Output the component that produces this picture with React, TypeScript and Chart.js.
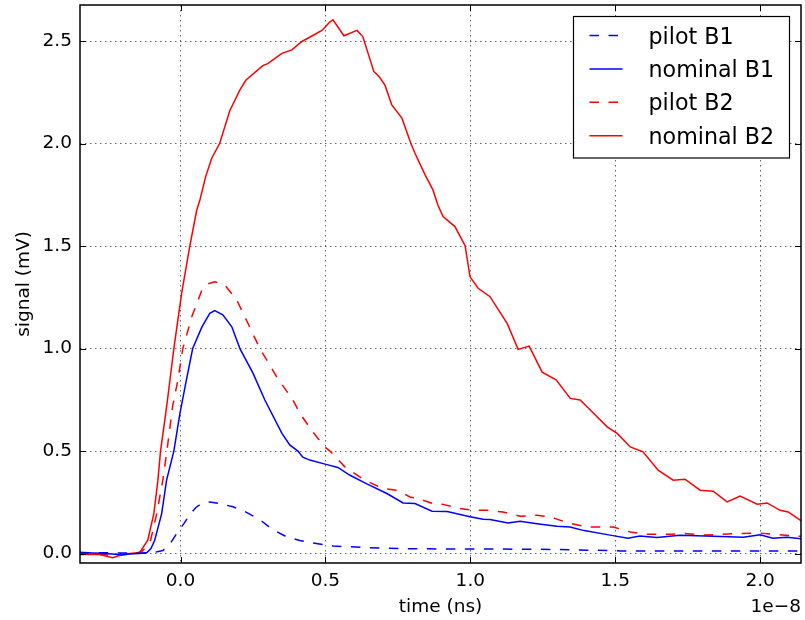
import React, { useEffect, useRef } from 'react';
import { Chart, registerables } from 'chart.js';

Chart.register(...registerables);

// ---- data (time in units of 1e-8 s, signal in mV) ----
const xTicks = [0.0, 0.5, 1.0, 1.5, 2.0];
const yTicks = [0.0, 0.5, 1.0, 1.5, 2.0, 2.5];
const xOffsetLabel = '1e\u22128';
const xLabel = 'time (ns)';
const yLabel = 'signal (mV)';
const seriesLabels = ['pilot B1', 'nominal B1', 'pilot B2', 'nominal B2'];

const tPilotB1 = [-0.348, -0.21, -0.123, -0.089, -0.061, -0.037, -0.013, 0.011, 0.032, 0.053, 0.074, 0.101, 0.136, 0.181, 0.222, 0.274, 0.315, 0.367, 0.412, 0.446, 0.526, 0.643, 0.757, 0.93, 1.103, 1.31, 1.517, 1.724, 1.931, 2.142];
const pilotB1 = [0.005, 0.003, 0.002, 0.006, 0.015, 0.045, 0.098, 0.145, 0.19, 0.225, 0.245, 0.252, 0.244, 0.228, 0.205, 0.165, 0.12, 0.081, 0.064, 0.054, 0.037, 0.029, 0.024, 0.022, 0.022, 0.02, 0.013, 0.012, 0.013, 0.013];

const tNominalB1 = [-0.348, -0.279, -0.21, -0.141, -0.116, -0.102, -0.089, -0.065, -0.048, -0.023, -0.002, 0.018, 0.042, 0.074, 0.101, 0.118, 0.146, 0.177, 0.205, 0.25, 0.291, 0.35, 0.377, 0.405, 0.422, 0.446, 0.502, 0.543, 0.585, 0.643, 0.712, 0.768, 0.809, 0.868, 0.92, 0.999, 1.044, 1.068, 1.13, 1.172, 1.23, 1.299, 1.344, 1.393, 1.482, 1.544, 1.585, 1.644, 1.723, 1.838, 1.942, 2.0, 2.044, 2.093, 2.142];
const nominalB1 = [0.005, 0.002, -0.004, 0.0, 0.005, 0.025, 0.065, 0.195, 0.358, 0.5, 0.684, 0.83, 1.0, 1.106, 1.172, 1.185, 1.165, 1.106, 1.0, 0.88, 0.749, 0.586, 0.53, 0.5, 0.47, 0.456, 0.435, 0.42, 0.382, 0.34, 0.293, 0.247, 0.244, 0.207, 0.205, 0.18, 0.167, 0.166, 0.149, 0.158, 0.146, 0.133, 0.13, 0.112, 0.09, 0.075, 0.086, 0.078, 0.089, 0.084, 0.08, 0.092, 0.075, 0.08, 0.072];

const tPilotB2 = [-0.348, -0.279, -0.21, -0.158, -0.134, -0.12, -0.103, -0.082, -0.061, -0.047, -0.027, -0.009, 0.008, 0.039, 0.074, 0.094, 0.118, 0.153, 0.194, 0.222, 0.274, 0.333, 0.388, 0.412, 0.453, 0.498, 0.516, 0.567, 0.636, 0.699, 0.747, 0.792, 0.819, 0.871, 0.906, 0.964, 1.009, 1.058, 1.113, 1.172, 1.23, 1.275, 1.337, 1.403, 1.493, 1.552, 1.61, 1.689, 1.734, 1.817, 1.921, 2.0, 2.059, 2.142];
const pilotB2 = [0.0, -0.005, -0.01, 0.0, 0.01, 0.03, 0.065, 0.195, 0.358, 0.5, 0.72, 0.847, 1.0, 1.155, 1.286, 1.315, 1.326, 1.31, 1.237, 1.155, 1.0, 0.86, 0.749, 0.684, 0.6, 0.52, 0.5, 0.423, 0.358, 0.317, 0.309, 0.276, 0.268, 0.244, 0.24, 0.22, 0.211, 0.211, 0.203, 0.182, 0.187, 0.179, 0.15, 0.13, 0.13, 0.105, 0.094, 0.094, 0.098, 0.09, 0.098, 0.1, 0.092, 0.084];

const tNominalB2 = [-0.348, -0.279, -0.234, -0.21, -0.175, -0.141, -0.113, -0.092, -0.078, -0.069, -0.051, -0.044, -0.023, 0.004, 0.032, 0.056, 0.067, 0.087, 0.108, 0.135, 0.17, 0.205, 0.226, 0.284, 0.301, 0.35, 0.384, 0.419, 0.488, 0.515, 0.526, 0.564, 0.609, 0.629, 0.667, 0.685, 0.705, 0.729, 0.764, 0.795, 0.809, 0.844, 0.871, 0.888, 0.906, 0.947, 0.982, 0.999, 1.027, 1.068, 1.127, 1.165, 1.203, 1.248, 1.296, 1.345, 1.379, 1.414, 1.472, 1.507, 1.552, 1.596, 1.648, 1.7, 1.741, 1.793, 1.838, 1.886, 1.931, 1.99, 2.024, 2.069, 2.097, 2.142];
const nominalB2 = [-0.005, -0.005, -0.02, -0.008, 0.0, 0.005, 0.065, 0.195, 0.358, 0.5, 0.684, 0.76, 1.0, 1.27, 1.5, 1.676, 1.725, 1.84, 1.93, 2.0, 2.16, 2.262, 2.31, 2.38, 2.39, 2.44, 2.457, 2.498, 2.552, 2.593, 2.604, 2.526, 2.552, 2.522, 2.352, 2.327, 2.287, 2.189, 2.124, 2.0, 1.953, 1.847, 1.774, 1.7, 1.644, 1.595, 1.502, 1.35, 1.294, 1.253, 1.123, 0.996, 1.012, 0.885, 0.848, 0.757, 0.749, 0.7, 0.618, 0.586, 0.52, 0.496, 0.407, 0.358, 0.363, 0.309, 0.304, 0.252, 0.28, 0.241, 0.247, 0.211, 0.203, 0.16];

const X_MIN = -0.3468;
const X_MAX = 2.141;
const Y_MIN = -0.046;
const Y_MAX = 2.676;

const FONT = 'DejaVu Sans';
const TICK_SIZE = 18.5;
const LEGEND_SIZE = 22.2;
const DASH = [9.5, 9.5];

const pts = (t: number[], v: number[]) => t.map((x, i) => ({ x, y: v[i] }));

const framePlugin = {
  id: 'mplFrame',
  afterDatasetsDraw(chart: any) {
    const { ctx, chartArea: a, scales } = chart;
    ctx.save();
    ctx.setLineDash([]);
    ctx.strokeStyle = '#000';
    ctx.lineWidth = 1;
    const L = 6;
    xTicks.forEach((v) => {
      const px = Math.round(scales.x.getPixelForValue(v)) + 0.5;
      ctx.beginPath();
      ctx.moveTo(px, a.bottom);
      ctx.lineTo(px, a.bottom - L);
      ctx.moveTo(px, a.top);
      ctx.lineTo(px, a.top + L);
      ctx.stroke();
    });
    yTicks.forEach((v) => {
      const py = Math.round(scales.y.getPixelForValue(v)) + 0.5;
      ctx.beginPath();
      ctx.moveTo(a.left, py);
      ctx.lineTo(a.left + L, py);
      ctx.moveTo(a.right, py);
      ctx.lineTo(a.right - L, py);
      ctx.stroke();
    });
    ctx.lineWidth = 1.5;
    ctx.strokeRect(a.left, a.top, a.right - a.left, a.bottom - a.top);
    ctx.font = `${TICK_SIZE}px "${FONT}"`;
    ctx.fillStyle = '#000';
    ctx.textAlign = 'right';
    ctx.textBaseline = 'alphabetic';
    ctx.fillText(xOffsetLabel, a.right, a.bottom + 48.5);
    ctx.restore();
  },
  afterDraw(chart: any) {
    const { ctx, chartArea: a } = chart;
    const boxRight = a.right - 11.5;
    const boxTop = a.top + 11.5;
    const boxW = 216;
    const boxH = 141.5;
    const boxLeft = boxRight - boxW;
    ctx.save();
    ctx.setLineDash([]);
    ctx.fillStyle = '#fff';
    ctx.fillRect(boxLeft, boxTop, boxW, boxH);
    ctx.strokeStyle = '#000';
    ctx.lineWidth = 1.2;
    ctx.strokeRect(boxLeft, boxTop, boxW, boxH);
    const rowY0 = boxTop + 19;
    const step = 33.4;
    ctx.font = `${LEGEND_SIZE}px "${FONT}"`;
    ctx.textAlign = 'left';
    ctx.textBaseline = 'alphabetic';
    chart.data.datasets.forEach((ds: any, i: number) => {
      const y = rowY0 + i * step;
      ctx.strokeStyle = ds.borderColor;
      ctx.lineWidth = ds.borderWidth;
      ctx.setLineDash(ds.borderDash || []);
      ctx.beginPath();
      ctx.moveTo(boxLeft + 16, y);
      ctx.lineTo(boxLeft + 49, y);
      ctx.stroke();
      ctx.setLineDash([]);
      ctx.fillStyle = '#000';
      ctx.fillText(ds.label, boxLeft + 75, y + 8);
    });
    ctx.restore();
  },
};

export default function App() {
  const ref = useRef<HTMLCanvasElement | null>(null);
  useEffect(() => {
    document.body.style.margin = '0';
    const canvas = ref.current;
    if (!canvas) return;
    const gridColor = 'rgba(0,0,0,0.6)';
    const chart = new Chart(canvas, {
      type: 'line',
      data: {
        datasets: [
          { label: seriesLabels[0], data: pts(tPilotB1, pilotB1), borderColor: '#0000ff', borderWidth: 1.5, borderDash: DASH },
          { label: seriesLabels[1], data: pts(tNominalB1, nominalB1), borderColor: '#0000ff', borderWidth: 1.5 },
          { label: seriesLabels[2], data: pts(tPilotB2, pilotB2), borderColor: '#ff0000', borderWidth: 1.5, borderDash: DASH },
          { label: seriesLabels[3], data: pts(tNominalB2, nominalB2), borderColor: '#ff0000', borderWidth: 1.5 },
        ],
      },
      options: {
        responsive: false,
        animation: false,
        devicePixelRatio: 1,
        elements: { point: { radius: 0 }, line: { tension: 0, fill: false } },
        layout: { padding: { top: 5, right: 4, left: 0, bottom: 0 } },
        plugins: { legend: { display: false }, tooltip: { enabled: false } },
        scales: {
          x: {
            type: 'linear',
            min: X_MIN,
            max: X_MAX,
            afterBuildTicks: (s: any) => { s.ticks = xTicks.map((value) => ({ value })); },
            afterFit: (s: any) => { s.height = 57; s.paddingLeft = 0; s.paddingRight = 0; },
            ticks: {
              callback: (v: any) => Number(v).toFixed(1),
              font: { family: FONT, size: TICK_SIZE },
              color: '#000',
              padding: 7,
              maxRotation: 0,
              autoSkip: false,
            },
            grid: { drawTicks: false, color: gridColor, lineWidth: 1 },
            border: { display: false, dash: [1.5, 3.5] },
            title: { display: true, text: xLabel, color: '#000', font: { family: FONT, size: TICK_SIZE }, padding: { top: 0, bottom: 2 } },
          },
          y: {
            type: 'linear',
            min: Y_MIN,
            max: Y_MAX,
            afterBuildTicks: (s: any) => { s.ticks = yTicks.map((value) => ({ value })); },
            afterFit: (s: any) => { s.width = 80; s.paddingTop = 0; s.paddingBottom = 0; },
            ticks: {
              callback: (v: any) => Number(v).toFixed(1),
              font: { family: FONT, size: TICK_SIZE },
              color: '#000',
              padding: 8,
              autoSkip: false,
            },
            grid: { drawTicks: false, color: gridColor, lineWidth: 1 },
            border: { display: false, dash: [1.5, 3.5] },
            title: { display: true, text: yLabel, color: '#000', font: { family: FONT, size: TICK_SIZE }, padding: { top: 13, bottom: 0 } },
          },
        },
      },
      plugins: [framePlugin],
    });
    return () => chart.destroy();
  }, []);
  return (
    <div style={{ width: 805, height: 620 }}>
      <canvas ref={ref} width={805} height={620} style={{ display: 'block' }} />
    </div>
  );
}
